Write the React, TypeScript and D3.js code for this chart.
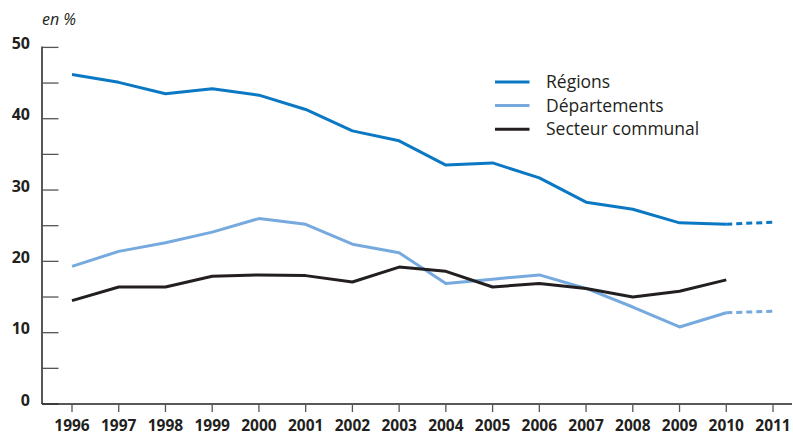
import React from "react";
import * as d3 from "d3";

const years = [1996, 1997, 1998, 1999, 2000, 2001, 2002, 2003, 2004, 2005, 2006, 2007, 2008, 2009, 2010, 2011];
const regions = [46.2, 45.1, 43.5, 44.2, 43.3, 41.3, 38.3, 36.9, 33.5, 33.8, 31.7, 28.3, 27.3, 25.4, 25.2];
const regionsProj = [25.2, 25.5];
const departements = [19.3, 21.4, 22.6, 24.1, 26.0, 25.2, 22.4, 21.2, 16.9, 17.5, 18.1, 16.2, 13.6, 10.8, 12.8];
const departementsProj = [12.8, 13.0];
const communal = [14.5, 16.4, 16.4, 17.9, 18.1, 18.0, 17.1, 19.2, 18.6, 16.4, 16.9, 16.2, 15.0, 15.8, 17.4];
const yMajor = [0, 10, 20, 30, 40, 50];
const yMinor = [5, 15, 25, 35, 45];
const seriesNames = ["Régions", "Départements", "Secteur communal"];
const colors = ["#0a78c2", "#76aade", "#231f20"];

export default function App() {
  const W = 793, H = 435;
  const x = d3.scaleLinear().domain([1996, 2011]).range([72, 773]);
  const y = d3.scaleLinear().domain([0, 50]).range([404, 47.4]);
  const line = d3.line<[number, number]>().x(d => x(d[0])).y(d => y(d[1]));
  const pts = (vals: number[], start: number) => vals.map((v, i) => [years[start + i], v] as [number, number]);
  const font = "'Open Sans', 'Noto Sans', sans-serif";
  const series = [regions, departements, communal];
  const proj = [regionsProj, departementsProj, null];
  return (
    <svg width={W} height={H} style={{ position: "absolute", left: 0, top: 0, background: "#fff" }} fontFamily={font}>
      <text x={42} y={25} fontSize={16} fontStyle="italic" fill="#231f20">en %</text>
      {/* y axis */}
      <line x1={42} x2={42} y1={y(50) - 1} y2={y(0)} stroke="#231f20" strokeWidth={1.5} />
      {[...yMajor, ...yMinor].map(t => (
        <line key={"yt" + t} x1={42} x2={58.5} y1={y(t)} y2={y(t)} stroke="#555" strokeWidth={1.3} />
      ))}
      {yMajor.map(t => (
        <text key={"yl" + t} x={30} y={y(t)} dy="0.1em" textAnchor="end" fontSize={16} fontWeight={700} fill="#231f20">{t}</text>
      ))}
      {/* x axis */}
      <line x1={42} x2={792} y1={y(0)} y2={y(0)} stroke="#231f20" strokeWidth={1.5} />
      {years.map(yr => (
        <g key={"xt" + yr}>
          <line x1={x(yr)} x2={x(yr)} y1={y(0)} y2={412} stroke="#555" strokeWidth={1.3} />
          <text x={x(yr)} y={431} textAnchor="middle" fontSize={15.5} fontWeight={700} fill="#231f20">{yr}</text>
        </g>
      ))}
      {/* series */}
      {series.map((s, i) => (
        <path key={"s" + i} d={line(pts(s, 0)) || ""} fill="none" stroke={colors[i]} strokeWidth={3} strokeLinejoin="round" />
      ))}
      {proj.map((p, i) => p ? (
        <path key={"p" + i} d={line(pts(p, years.length - 2)) || ""} fill="none" stroke={colors[i]} strokeWidth={3} strokeDasharray="6 4" />
      ) : null)}
      {/* legend */}
      {seriesNames.map((n, i) => (
        <g key={"lg" + i} transform={`translate(0, ${82 + i * 23.6})`}>
          <line x1={495} x2={529.5} y1={0} y2={0} stroke={colors[i]} strokeWidth={3} />
          <text x={546} y={0} dy="0.35em" fontSize={17.5} fill="#231f20">{n}</text>
        </g>
      ))}
    </svg>
  );
}
